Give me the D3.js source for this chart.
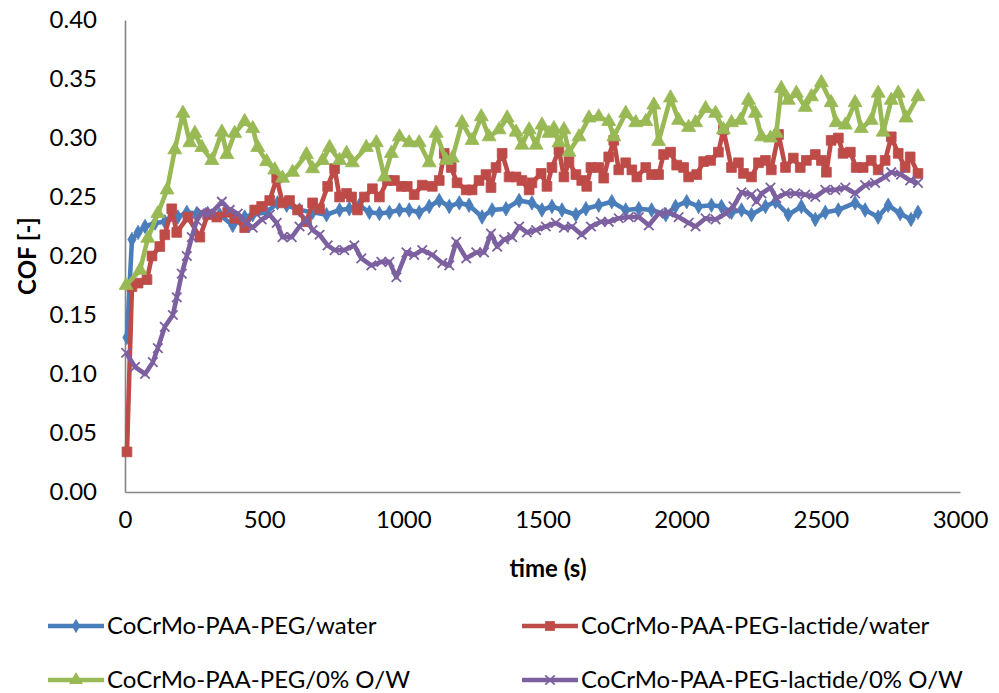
<!DOCTYPE html>
<html><head><meta charset="utf-8">
<script src="https://cdn.jsdelivr.net/npm/d3@7"></script>
<style>
body{margin:0;background:#fff}
svg text{font-family:Lato,"Open Sans",sans-serif;fill:#000}
</style>
</head><body>
<svg id="chart" width="999" height="693"></svg>
<script>
const seriesNames = ["CoCrMo-PAA-PEG/water","CoCrMo-PAA-PEG-lactide/water","CoCrMo-PAA-PEG/0% O/W","CoCrMo-PAA-PEG-lactide/0% O/W"];
const xTickValues = [0,500,1000,1500,2000,2500,3000];
const yTickValues = [0,0.05,0.10,0.15,0.20,0.25,0.30,0.35,0.40];

const tBlue = [7,25,47,72,108,143,190,222,258,297,340,387,430,459,509,548,581,627,674,724,771,806,842,878,914,950,986,1021,1057,1093,1129,1165,1201,1236,1283,1319,1369,1416,1462,1498,1534,1570,1620,1656,1702,1749,1799,1846,1892,1943,1978,2018,2061,2107,2143,2179,2215,2251,2301,2337,2383,2430,2480,2516,2563,2623,2659,2706,2742,2785,2824,2849];
const vBlue = [0.131,0.214,0.220,0.225,0.228,0.229,0.233,0.237,0.236,0.236,0.235,0.226,0.233,0.235,0.237,0.245,0.243,0.239,0.237,0.235,0.239,0.240,0.243,0.237,0.236,0.237,0.239,0.239,0.237,0.242,0.247,0.242,0.245,0.243,0.233,0.239,0.240,0.247,0.245,0.239,0.242,0.239,0.235,0.240,0.243,0.246,0.239,0.240,0.239,0.235,0.242,0.246,0.242,0.243,0.242,0.237,0.239,0.235,0.242,0.246,0.235,0.242,0.231,0.237,0.239,0.245,0.239,0.233,0.243,0.236,0.231,0.237];

const tRed = [7,25,47,79,97,125,143,168,186,226,269,297,330,369,394,430,466,491,520,545,566,591,620,652,674,699,728,753,771,796,814,835,860,889,914,943,968,993,1014,1039,1068,1104,1129,1147,1172,1193,1226,1247,1272,1297,1315,1333,1355,1380,1405,1426,1452,1462,1495,1516,1534,1559,1577,1595,1620,1641,1659,1674,1702,1720,1738,1756,1774,1799,1821,1839,1871,1892,1917,1935,1960,1982,2007,2025,2054,2079,2104,2132,2150,2179,2204,2222,2251,2276,2301,2322,2348,2373,2401,2426,2448,2480,2502,2520,2537,2563,2580,2606,2627,2652,2681,2706,2731,2753,2778,2803,2821,2849];
const vRed = [0.034,0.174,0.177,0.180,0.200,0.208,0.218,0.240,0.220,0.233,0.216,0.235,0.233,0.237,0.232,0.224,0.239,0.242,0.247,0.266,0.245,0.247,0.239,0.229,0.245,0.240,0.259,0.274,0.250,0.253,0.250,0.239,0.250,0.257,0.250,0.264,0.264,0.259,0.259,0.252,0.260,0.259,0.264,0.287,0.275,0.262,0.256,0.256,0.264,0.269,0.258,0.275,0.287,0.267,0.267,0.264,0.256,0.262,0.270,0.259,0.275,0.290,0.267,0.280,0.269,0.264,0.259,0.275,0.275,0.266,0.284,0.298,0.273,0.279,0.273,0.267,0.275,0.269,0.269,0.286,0.288,0.277,0.275,0.267,0.269,0.280,0.281,0.288,0.307,0.275,0.279,0.270,0.267,0.279,0.281,0.273,0.303,0.275,0.283,0.275,0.281,0.286,0.281,0.271,0.298,0.300,0.287,0.288,0.275,0.275,0.281,0.273,0.281,0.301,0.287,0.275,0.284,0.270];

const tGreen = [4,54,82,118,151,179,208,233,251,276,312,348,366,394,430,459,477,509,538,566,602,652,674,710,735,771,796,817,867,903,932,957,986,1021,1057,1093,1118,1154,1176,1211,1247,1280,1308,1344,1373,1405,1426,1452,1477,1498,1523,1541,1559,1577,1595,1631,1667,1702,1738,1756,1799,1835,1871,1900,1917,1960,1989,2025,2050,2086,2122,2150,2179,2211,2240,2265,2287,2319,2340,2358,2383,2412,2444,2466,2502,2537,2555,2588,2623,2645,2681,2706,2724,2753,2778,2806,2849];
const vGreen = [0.175,0.188,0.215,0.236,0.256,0.290,0.321,0.296,0.304,0.292,0.281,0.305,0.286,0.304,0.314,0.308,0.292,0.280,0.273,0.266,0.271,0.286,0.274,0.281,0.292,0.281,0.287,0.279,0.292,0.296,0.267,0.287,0.301,0.296,0.296,0.279,0.304,0.281,0.283,0.313,0.298,0.318,0.301,0.307,0.317,0.305,0.294,0.307,0.294,0.311,0.304,0.308,0.296,0.307,0.288,0.301,0.317,0.318,0.314,0.301,0.321,0.313,0.314,0.328,0.297,0.334,0.315,0.309,0.313,0.325,0.321,0.307,0.313,0.315,0.332,0.321,0.301,0.300,0.304,0.342,0.332,0.338,0.326,0.335,0.347,0.330,0.313,0.311,0.330,0.308,0.315,0.338,0.305,0.332,0.338,0.317,0.335];

const tPurple = [4,36,72,100,118,143,172,186,204,222,240,258,276,297,312,348,376,405,437,459,491,520,545,566,599,627,652,674,699,728,753,788,824,849,885,921,950,975,1011,1039,1068,1104,1140,1165,1190,1226,1262,1290,1315,1337,1362,1391,1416,1444,1477,1512,1548,1577,1606,1641,1674,1710,1738,1774,1810,1846,1882,1917,1953,1989,2025,2050,2086,2122,2158,2186,2215,2251,2269,2287,2319,2340,2373,2408,2444,2480,2516,2552,2588,2623,2659,2695,2731,2753,2788,2821,2849];
const vPurple = [0.118,0.106,0.100,0.110,0.122,0.140,0.150,0.165,0.185,0.200,0.216,0.230,0.237,0.236,0.237,0.246,0.239,0.236,0.228,0.224,0.231,0.235,0.228,0.216,0.216,0.225,0.231,0.222,0.218,0.209,0.205,0.205,0.209,0.198,0.192,0.195,0.195,0.182,0.203,0.201,0.205,0.201,0.194,0.192,0.212,0.198,0.203,0.203,0.219,0.208,0.214,0.216,0.225,0.220,0.222,0.225,0.228,0.224,0.225,0.218,0.225,0.229,0.229,0.232,0.233,0.233,0.226,0.236,0.237,0.233,0.228,0.225,0.232,0.231,0.236,0.242,0.254,0.252,0.246,0.253,0.258,0.249,0.253,0.253,0.252,0.250,0.256,0.256,0.258,0.253,0.260,0.262,0.267,0.271,0.269,0.264,0.262];

const colors = ["#4A7EBB","#BE4B48","#98B954","#7D60A0"];

const series = [
  {name:seriesNames[0], t:tBlue,   v:vBlue,   color:colors[0], marker:"diamond"},
  {name:seriesNames[1], t:tRed,    v:vRed,    color:colors[1], marker:"square"},
  {name:seriesNames[2], t:tGreen,  v:vGreen,  color:colors[2], marker:"triangle"},
  {name:seriesNames[3], t:tPurple, v:vPurple, color:colors[3], marker:"x"}
];

const svg = d3.select("#chart");
const x = d3.scaleLinear().domain([0,3000]).range([125,960]);
const y = d3.scaleLinear().domain([0,0.4]).range([492,20]);
const FS = 24;
const LW = 4.6;

const symbolFor = {
  diamond: d3.symbol().type(d3.symbolDiamond).size(60),
  square: d3.symbol().type(d3.symbolSquare).size(95),
  triangle: d3.symbol().type(d3.symbolTriangle).size(85),
  x: d3.symbol().type(d3.symbolTimes || d3.symbolX || d3.symbolCross).size(60)
};

// axes
const yAxis = d3.axisLeft(y).tickValues(yTickValues).tickSize(0).tickPadding(28).tickFormat(d3.format(".2f"));
const gy = svg.append("g").attr("transform","translate(125,0)").call(yAxis);
const xAxis = d3.axisBottom(x).tickValues(xTickValues).tickSize(0).tickPadding(19).tickFormat(d3.format("d"));
const gx = svg.append("g").attr("transform","translate(0,492)").call(xAxis);
[gx,gy].forEach(g=>{
  g.select(".domain").attr("stroke","#868686").attr("stroke-width",1.6);
  g.selectAll("text").style("font-size",FS+"px").attr("fill","#000");
});

// series lines + markers
const line = d3.line().x(d=>x(d[0])).y(d=>y(d[1]));
series.forEach(s=>{
  const pts = s.t.map((t,i)=>[t,s.v[i]]);
  const g = svg.append("g");
  g.append("path").datum(pts).attr("d",line).attr("fill","none")
    .attr("stroke",s.color).attr("stroke-width",LW).attr("stroke-linejoin","round");
  const m = g.selectAll("path.m").data(pts).join("path").attr("class","m")
    .attr("transform",d=>`translate(${x(d[0])},${y(d[1])})`)
    .attr("d",symbolFor[s.marker]());
  if (s.marker==="x") m.attr("fill","none").attr("stroke",s.color).attr("stroke-width",1.8);
  else m.attr("fill",s.color).attr("stroke",s.color).attr("stroke-width",0.8);
});

// axis titles
svg.append("text").attr("x",548).attr("y",577).attr("text-anchor","middle")
  .style("font-size",FS+"px").style("font-weight","bold").text("time (s)");
svg.append("text").attr("transform","translate(36,256) rotate(-90)").attr("text-anchor","middle")
  .style("font-size",FS+"px").style("font-weight","bold").text("COF [-]");

// legend
const legPos = [[48,626],[522,626],[48,680],[522,680]];
series.forEach((s,i)=>{
  const [lx,ly] = legPos[i];
  const g = svg.append("g");
  g.append("line").attr("x1",lx).attr("x2",lx+56).attr("y1",ly).attr("y2",ly)
    .attr("stroke",s.color).attr("stroke-width",LW);
  const m = g.append("path").attr("transform",`translate(${lx+28},${ly})`).attr("d",symbolFor[s.marker]());
  if (s.marker==="x") m.attr("fill","none").attr("stroke",s.color).attr("stroke-width",1.8);
  else m.attr("fill",s.color);
  g.append("text").attr("x",lx+59).attr("y",ly).attr("dy","0.35em")
    .style("font-size",FS+"px").text(s.name);
});
</script>
</body></html>
